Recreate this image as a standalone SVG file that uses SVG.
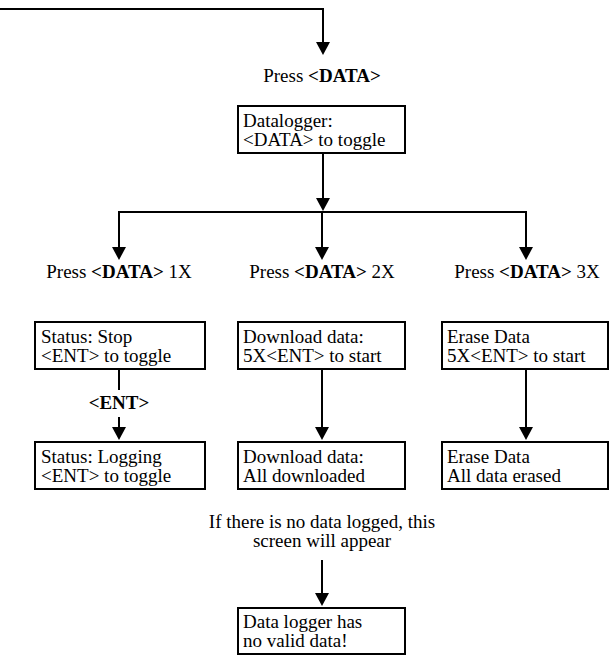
<svg xmlns="http://www.w3.org/2000/svg" width="610" height="657" viewBox="0 0 610 657">
<g id="connectors" fill="none" stroke="#000" stroke-width="2">
<path d="M0,9 H323 V43"/>
<path d="M323,153 V199"/>
<path d="M119,248 V212 H526 V248"/>
<path d="M322,212 V248"/>
<path d="M119,369 V390"/>
<path d="M119,417 V428"/>
<path d="M322,369 V428"/>
<path d="M526,369 V428"/>
<path d="M322,560 V594"/>
<g fill="#000" stroke="none">
<path d="M316,42 L330,42 L323,55 Z"/>
<path d="M316,198 L330,198 L323,211 Z"/>
<path d="M112,247 L126,247 L119,260 Z"/>
<path d="M315,247 L329,247 L322,260 Z"/>
<path d="M519,247 L533,247 L526,260 Z"/>
<path d="M112,427 L126,427 L119,440 Z"/>
<path d="M315,427 L329,427 L322,440 Z"/>
<path d="M519,427 L533,427 L526,440 Z"/>
<path d="M315,593 L329,593 L322,606 Z"/>
</g>
</g>
<g id="label-press-data"><text font-family="Liberation Serif" font-size="19" x="322" y="82" text-anchor="middle">Press <tspan font-weight="bold">&lt;DATA&gt;</tspan></text></g>
<g id="node-datalogger">
<rect x="238" y="106" width="167" height="47" fill="#fff" stroke="#000" stroke-width="2"/>
<text font-family="Liberation Serif" font-size="19" x="243" y="127">Datalogger:</text>
<text font-family="Liberation Serif" font-size="19" x="243" y="146">&lt;DATA&gt; to toggle</text>
</g>
<g id="label-1x"><text font-family="Liberation Serif" font-size="19" x="119" y="278" text-anchor="middle">Press <tspan font-weight="bold">&lt;DATA&gt;</tspan> 1X</text></g>
<g id="label-2x"><text font-family="Liberation Serif" font-size="19" x="322" y="278" text-anchor="middle">Press <tspan font-weight="bold">&lt;DATA&gt;</tspan> 2X</text></g>
<g id="label-3x"><text font-family="Liberation Serif" font-size="19" x="527" y="278" text-anchor="middle">Press <tspan font-weight="bold">&lt;DATA&gt;</tspan> 3X</text></g>
<g id="node-status-stop">
<rect x="35" y="322" width="170" height="47" fill="#fff" stroke="#000" stroke-width="2"/>
<text font-family="Liberation Serif" font-size="19" x="41" y="343">Status: Stop</text>
<text font-family="Liberation Serif" font-size="19" x="41" y="362">&lt;ENT&gt; to toggle</text>
</g>
<g id="label-ent"><text font-family="Liberation Serif" font-size="19" font-weight="bold" x="119" y="409" text-anchor="middle">&lt;ENT&gt;</text></g>
<g id="node-status-logging">
<rect x="35" y="442" width="170" height="47" fill="#fff" stroke="#000" stroke-width="2"/>
<text font-family="Liberation Serif" font-size="19" x="41" y="463">Status: Logging</text>
<text font-family="Liberation Serif" font-size="19" x="41" y="482">&lt;ENT&gt; to toggle</text>
</g>
<g id="node-download-start">
<rect x="238" y="322" width="167" height="47" fill="#fff" stroke="#000" stroke-width="2"/>
<text font-family="Liberation Serif" font-size="19" x="243" y="343">Download data:</text>
<text font-family="Liberation Serif" font-size="19" x="243" y="362">5X&lt;ENT&gt; to start</text>
</g>
<g id="node-download-done">
<rect x="238" y="442" width="167" height="47" fill="#fff" stroke="#000" stroke-width="2"/>
<text font-family="Liberation Serif" font-size="19" x="243" y="463">Download data:</text>
<text font-family="Liberation Serif" font-size="19" x="243" y="482">All downloaded</text>
</g>
<g id="node-erase-start">
<rect x="442" y="322" width="166" height="47" fill="#fff" stroke="#000" stroke-width="2"/>
<text font-family="Liberation Serif" font-size="19" x="447" y="343">Erase Data</text>
<text font-family="Liberation Serif" font-size="19" x="447" y="362">5X&lt;ENT&gt; to start</text>
</g>
<g id="node-erase-done">
<rect x="442" y="442" width="166" height="47" fill="#fff" stroke="#000" stroke-width="2"/>
<text font-family="Liberation Serif" font-size="19" x="447" y="463">Erase Data</text>
<text font-family="Liberation Serif" font-size="19" x="447" y="482">All data erased</text>
</g>
<g id="label-no-data">
<text font-family="Liberation Serif" font-size="19" x="322" y="528" text-anchor="middle">If there is no data logged, this</text>
<text font-family="Liberation Serif" font-size="19" x="322" y="547" text-anchor="middle">screen will appear</text>
</g>
<g id="node-no-valid">
<rect x="238" y="608" width="167" height="46" fill="#fff" stroke="#000" stroke-width="2"/>
<text font-family="Liberation Serif" font-size="19" x="243" y="628">Data logger has</text>
<text font-family="Liberation Serif" font-size="19" x="243" y="647">no valid data!</text>
</g>
</svg>
